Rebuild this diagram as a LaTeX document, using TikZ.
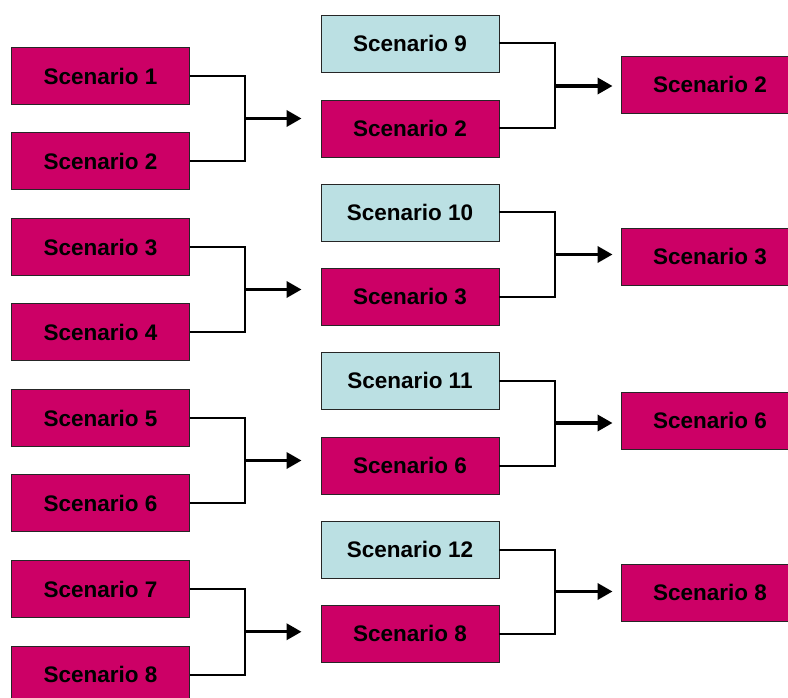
\documentclass[tikz,border=0pt]{standalone}
\usepackage{fontspec}
\setmainfont{Liberation Sans}
\usetikzlibrary{arrows.meta,calc}
\definecolor{mag}{HTML}{CC0066}
\definecolor{lblue}{HTML}{BBE0E3}
\begin{document}
\begin{tikzpicture}[x=1pt,y=-1pt,
  box/.style={draw=black!85,line width=0.9pt,minimum width=178pt,minimum height=57pt,inner sep=0pt,
    font=\fontsize{22.5}{26}\selectfont\bfseries,text=black},
  red/.style={box,fill=mag},
  blue/.style={box,fill=lblue},
  brk/.style={line width=2pt,line join=miter},
  arr/.style={line width=3.4pt,-{Triangle[length=15pt,width=16pt]}}]
\useasboundingbox (0,0) rectangle (788,698);
\clip (0,0) rectangle (788,698);
% left column
\node[red] (L1) at (100.5,76) {Scenario 1};
\node[red] (L2) at (100.5,161) {Scenario 2};
\node[red] (L3) at (100.5,247) {Scenario 3};
\node[red] (L4) at (100.5,332) {Scenario 4};
\node[red] (L5) at (100.5,418) {Scenario 5};
\node[red] (L6) at (100.5,503) {Scenario 6};
\node[red] (L7) at (100.5,589) {Scenario 7};
\node[red] (L8) at (100.5,674.5) {Scenario 8};
% middle column
\node[blue] (M1) at (410,43.5) {Scenario 9};
\node[red] (M2) at (410,128.5) {Scenario 2};
\node[blue] (M3) at (410,212.5) {Scenario 10};
\node[red] (M4) at (410,296.5) {Scenario 3};
\node[blue] (M5) at (410,380.5) {Scenario 11};
\node[red] (M6) at (410,465.5) {Scenario 6};
\node[blue] (M7) at (410,549.5) {Scenario 12};
\node[red] (M8) at (410,633.5) {Scenario 8};
% right column
\node[red] (R1) at (710,84.5) {Scenario 2};
\node[red] (R2) at (710,256.5) {Scenario 3};
\node[red] (R3) at (710,420.5) {Scenario 6};
\node[red] (R4) at (710,592.5) {Scenario 8};
% left brackets
\foreach \a/\b/\m in {L1/L2/M2,L3/L4/M4,L5/L6/M6,L7/L8/M8}{
  \draw[brk] (\a.east) -- ++(55,0) |- (\b.east);
  \coordinate (j) at ($(\a.east)!0.5!(\b.east)+(55,0)$);
  \draw[arr,shorten >=19pt] (j) -- (j -| \m.west);
}
% middle brackets
\foreach \a/\b/\r in {M1/M2/R1,M3/M4/R2,M5/M6/R3,M7/M8/R4}{
  \draw[brk] (\a.east) -- ++(56,0) |- (\b.east);
  \coordinate (j) at ($(\a.east)!0.5!(\b.east)+(56,0)$);
  \draw[arr,shorten >=8pt] (j) -- (j -| \r.west);
}
\end{tikzpicture}
\end{document}
